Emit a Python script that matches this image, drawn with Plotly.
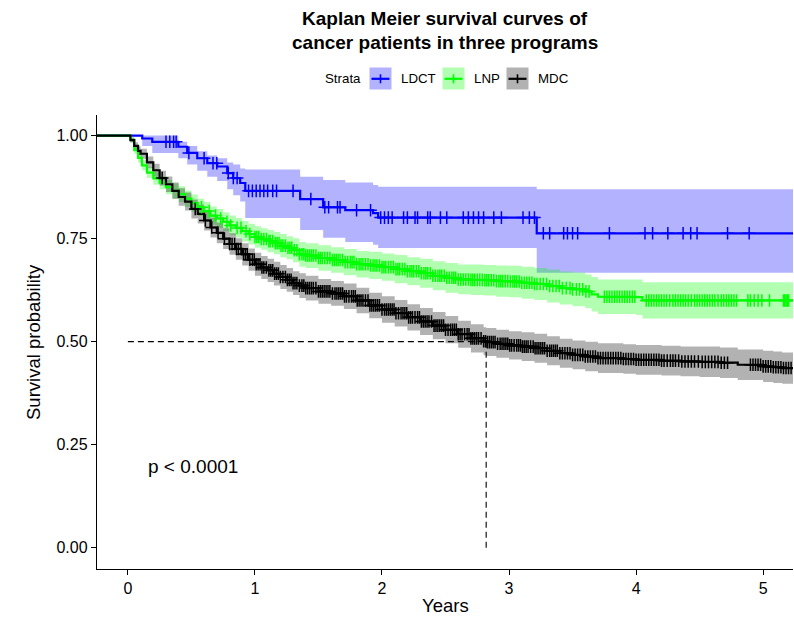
import numpy as np
import plotly.graph_objects as go

# ---------------- data ----------------
# LDCT
ldct_time = [-0.3, 0.113, 0.192, 0.397, 0.467, 0.546, 0.625, 0.703, 0.782, 0.829, 0.884, 0.924,
             1.356, 1.537, 1.711, 1.930, 1.970, 3.218, 5.30]
ldct_surv = [1.000, 0.993, 0.985, 0.973, 0.958, 0.945, 0.933, 0.925, 0.909, 0.897, 0.885, 0.866,
             0.846, 0.826, 0.819, 0.812, 0.801, 0.763, 0.763]
ldct_lower = [1.000, 0.975, 0.958, 0.945, 0.930, 0.915, 0.900, 0.890, 0.870, 0.855, 0.840, 0.800,
              0.771, 0.752, 0.742, 0.735, 0.727, 0.667, 0.667]
ldct_upper = [1.000, 1.000, 1.000, 0.985, 0.975, 0.962, 0.952, 0.945, 0.935, 0.930, 0.920, 0.918,
              0.900, 0.892, 0.886, 0.880, 0.876, 0.870, 0.870]
ldct_censor = [0.30, 0.33, 0.36, 0.38, 0.48, 0.60, 0.67, 0.70, 0.79, 0.83, 0.86, 0.95, 0.98, 1.01,
               1.04, 1.07, 1.10, 1.14, 1.17, 1.30, 1.44, 1.55, 1.58, 1.65, 1.67, 1.80, 1.91, 1.99,
               2.02, 2.05, 2.08, 2.17, 2.20, 2.26, 2.28, 2.36, 2.38, 2.46, 2.51, 2.64, 2.68, 2.72,
               2.76, 2.80, 2.88, 2.94, 3.11, 3.16, 3.20, 3.27, 3.32, 3.43, 3.46, 3.50, 3.54, 3.79,
               4.07, 4.13, 4.25, 4.37, 4.43, 4.48, 4.72, 4.89]

# LNP
lnp_time = [-0.3, 0.02, 0.05, 0.08, 0.11, 0.15, 0.20, 0.25, 0.30, 0.35, 0.40, 0.45, 0.50, 0.55,
            0.60, 0.65, 0.70, 0.75, 0.80, 0.85, 0.90, 0.95, 1.00, 1.05, 1.10, 1.15, 1.20, 1.25,
            1.30, 1.35, 1.40, 1.50, 1.60, 1.70, 1.80, 1.90, 2.00, 2.10, 2.20, 2.30, 2.40, 2.50,
            2.60, 2.70, 2.80, 2.90, 3.00, 3.10, 3.20, 3.30, 3.40, 3.50, 3.60, 3.65, 3.70, 4.00,
            4.05, 5.30]
lnp_surv = [1.000, 0.990, 0.965, 0.946, 0.928, 0.910, 0.896, 0.886, 0.875, 0.866, 0.858, 0.847,
            0.836, 0.826, 0.817, 0.806, 0.799, 0.791, 0.782, 0.776, 0.768, 0.761, 0.754, 0.749,
            0.744, 0.739, 0.733, 0.728, 0.722, 0.712, 0.709, 0.703, 0.698, 0.693, 0.688, 0.685,
            0.681, 0.676, 0.671, 0.666, 0.660, 0.655, 0.651, 0.650, 0.649, 0.647, 0.646, 0.643,
            0.640, 0.635, 0.630, 0.627, 0.622, 0.615, 0.609, 0.608, 0.600, 0.600]
lnp_lower = [1.000, 0.984, 0.956, 0.935, 0.916, 0.897, 0.881, 0.870, 0.858, 0.848, 0.839, 0.827,
             0.815, 0.805, 0.795, 0.784, 0.776, 0.768, 0.758, 0.752, 0.743, 0.736, 0.728, 0.723,
             0.717, 0.712, 0.705, 0.700, 0.693, 0.682, 0.679, 0.672, 0.667, 0.661, 0.656, 0.652,
             0.648, 0.642, 0.637, 0.631, 0.625, 0.619, 0.615, 0.613, 0.612, 0.609, 0.608, 0.604,
             0.601, 0.595, 0.590, 0.586, 0.581, 0.573, 0.567, 0.565, 0.556, 0.556]
lnp_upper = [1.000, 0.996, 0.974, 0.957, 0.940, 0.923, 0.911, 0.902, 0.892, 0.884, 0.877, 0.867,
             0.857, 0.847, 0.839, 0.828, 0.822, 0.814, 0.806, 0.800, 0.793, 0.786, 0.780, 0.775,
             0.771, 0.766, 0.761, 0.756, 0.751, 0.742, 0.739, 0.734, 0.729, 0.725, 0.720, 0.718,
             0.714, 0.710, 0.705, 0.701, 0.695, 0.691, 0.687, 0.687, 0.686, 0.685, 0.684, 0.682,
             0.679, 0.675, 0.670, 0.668, 0.663, 0.657, 0.651, 0.651, 0.644, 0.644]
lnp_censor = [0.58, 0.64, 0.69, 0.73, 0.78, 0.81, 0.86, 0.89, 0.93, 0.96, 1.00, 1.03, 1.07, 1.09,
              1.12, 1.16, 1.19, 1.22, 1.26, 1.29, 1.33, 1.37, 1.40, 1.43, 1.46, 1.50, 1.53, 1.57,
              1.61, 1.64, 1.67, 1.71, 1.75, 1.78, 1.82, 1.85, 1.89, 1.93, 1.96, 2.00, 2.03, 2.07,
              2.11, 2.14, 2.18, 2.22, 2.25, 2.29, 2.33, 2.36, 2.40, 2.44, 2.47, 2.51, 2.55, 2.58,
              2.62, 2.66, 2.70, 2.73, 2.77, 2.81, 2.84, 2.88, 2.92, 2.95, 2.99, 3.03, 3.06, 3.10,
              3.14, 3.18, 3.22, 3.27, 3.32, 3.37, 3.42, 3.48, 3.53, 3.58, 3.63, 3.75, 3.79, 3.83,
              3.87, 3.91, 3.95, 3.99, 4.08, 4.12, 4.16, 4.20, 4.24, 4.29, 4.33, 4.37, 4.41, 4.46,
              4.50, 4.54, 4.58, 4.62, 4.67, 4.71, 4.75, 4.79, 4.88, 4.93, 4.99, 5.05, 5.16, 5.18,
              5.20,
              1.015, 1.05, 1.11, 1.14, 1.175, 1.205, 1.24, 1.275, 1.31, 1.35, 1.385, 1.415, 1.445,
              1.48, 1.515, 1.55, 1.59, 1.625, 1.655, 1.69, 1.73, 1.765, 1.80, 1.835, 1.87, 1.91,
              1.945, 1.98, 2.015, 2.05, 2.09, 2.125, 2.16, 2.20, 2.235, 2.27, 2.31, 2.345, 2.38,
              2.42, 2.455, 2.49, 2.53, 2.565, 2.60, 2.64, 2.68, 2.715, 2.75, 2.79, 2.825, 2.86,
              2.90, 2.935, 2.97, 3.01, 3.045, 3.08, 3.12, 3.16, 3.20, 3.245, 3.295, 3.345, 3.395,
              3.45, 3.50, 3.555, 3.605, 3.77, 3.81, 3.85, 3.89, 3.93, 3.97, 4.10, 4.14, 4.18,
              4.22, 4.265, 4.31, 4.35, 4.39, 4.435, 4.48, 4.52, 4.56, 4.60, 4.645, 4.69, 4.73,
              4.77, 4.90, 4.96, 5.17, 5.19]

# MDC
mdc_time = [-0.3, 0.02, 0.05, 0.08, 0.10, 0.15, 0.20, 0.25, 0.30, 0.35, 0.40, 0.45, 0.50, 0.55,
            0.60, 0.65, 0.70, 0.75, 0.80, 0.85, 0.90, 0.95, 1.00, 1.05, 1.10, 1.15, 1.20, 1.25,
            1.30, 1.35, 1.40, 1.50, 1.60, 1.70, 1.80, 1.90, 2.00, 2.10, 2.20, 2.30, 2.40, 2.50,
            2.60, 2.70, 2.80, 2.82, 2.90, 3.00, 3.10, 3.20, 3.30, 3.40, 3.50, 3.60, 3.70, 3.90,
            4.00, 4.20, 4.35, 4.50, 4.66, 4.80, 5.00, 5.08, 5.15, 5.30]
mdc_surv = [1.000, 0.989, 0.975, 0.963, 0.956, 0.935, 0.916, 0.897, 0.882, 0.866, 0.851, 0.840,
            0.822, 0.810, 0.794, 0.777, 0.764, 0.750, 0.737, 0.725, 0.712, 0.699, 0.688, 0.680,
            0.673, 0.665, 0.657, 0.650, 0.642, 0.636, 0.630, 0.622, 0.617, 0.610, 0.600, 0.588,
            0.578, 0.569, 0.559, 0.549, 0.539, 0.529, 0.518, 0.508, 0.501, 0.499, 0.495, 0.491,
            0.488, 0.484, 0.478, 0.472, 0.468, 0.464, 0.460, 0.458, 0.456, 0.454, 0.452, 0.451,
            0.449, 0.444, 0.440, 0.438, 0.436, 0.436]
mdc_lower = [1.000, 0.983, 0.966, 0.952, 0.944, 0.921, 0.900, 0.879, 0.863, 0.846, 0.830, 0.818,
             0.799, 0.787, 0.770, 0.753, 0.739, 0.725, 0.711, 0.699, 0.685, 0.672, 0.660, 0.652,
             0.645, 0.636, 0.628, 0.621, 0.613, 0.606, 0.600, 0.592, 0.587, 0.579, 0.569, 0.557,
             0.546, 0.537, 0.527, 0.516, 0.506, 0.496, 0.485, 0.474, 0.467, 0.465, 0.461, 0.457,
             0.453, 0.449, 0.443, 0.437, 0.433, 0.428, 0.424, 0.422, 0.420, 0.418, 0.416, 0.414,
             0.412, 0.407, 0.402, 0.400, 0.398, 0.398]
mdc_upper = [1.000, 0.995, 0.984, 0.974, 0.968, 0.949, 0.932, 0.915, 0.901, 0.886, 0.872, 0.862,
             0.845, 0.833, 0.818, 0.801, 0.789, 0.775, 0.763, 0.751, 0.739, 0.726, 0.716, 0.708,
             0.701, 0.694, 0.686, 0.679, 0.671, 0.666, 0.660, 0.652, 0.647, 0.641, 0.631, 0.619,
             0.610, 0.601, 0.591, 0.582, 0.572, 0.562, 0.551, 0.542, 0.535, 0.533, 0.529, 0.525,
             0.523, 0.519, 0.513, 0.507, 0.503, 0.500, 0.496, 0.494, 0.492, 0.490, 0.488, 0.488,
             0.486, 0.481, 0.478, 0.476, 0.474, 0.474]
mdc_censor = [0.27, 0.53, 0.61, 0.66, 0.71, 0.76, 0.80, 0.84, 0.87, 0.91, 0.94, 0.98, 1.01, 1.04,
              1.07, 1.11, 1.14, 1.17, 1.20, 1.24, 1.27, 1.30, 1.33, 1.37, 1.40, 1.43, 1.46, 1.50,
              1.53, 1.56, 1.59, 1.63, 1.66, 1.69, 1.72, 1.76, 1.79, 1.82, 1.85, 1.89, 1.92, 1.95,
              1.98, 2.02, 2.05, 2.08, 2.11, 2.15, 2.18, 2.21, 2.24, 2.28, 2.31, 2.34, 2.37, 2.41,
              2.44, 2.47, 2.50, 2.54, 2.57, 2.60, 2.63, 2.67, 2.70, 2.73, 2.76, 2.80, 2.83, 2.86,
              2.89, 2.93, 2.96, 2.99, 3.02, 3.06, 3.09, 3.12, 3.15, 3.19, 3.22, 3.25, 3.28, 3.32,
              3.35, 3.38, 3.42, 3.46, 3.50, 3.54, 3.58, 3.62, 3.66, 3.70, 3.74, 3.78, 3.82, 3.86,
              3.90, 3.94, 3.98, 4.02, 4.06, 4.10, 4.14, 4.18, 4.22, 4.27, 4.31, 4.36, 4.41, 4.46,
              4.52, 4.57, 4.62, 4.67, 4.72, 4.90, 4.94, 4.98, 5.02, 5.06, 5.10, 5.14, 5.18, 5.22,
              0.82, 0.855, 0.89, 0.925, 0.96, 0.995, 1.025, 1.055, 1.09, 1.125, 1.155, 1.185, 1.22,
              1.255, 1.285, 1.315, 1.35, 1.385, 1.415, 1.445, 1.48, 1.515, 1.545, 1.575, 1.61,
              1.645, 1.675, 1.705, 1.74, 1.775, 1.805, 1.835, 1.87, 1.905, 1.935, 1.965, 2.00,
              2.035, 2.065, 2.095, 2.13, 2.165, 2.195, 2.225, 2.26, 2.295, 2.325, 2.355, 2.39,
              2.425, 2.455, 2.485, 2.52, 2.555, 2.585, 2.615, 2.65, 2.685, 2.715, 2.745, 2.78,
              2.815, 2.845, 2.875, 2.91, 2.945, 2.975, 3.005, 3.04, 3.075, 3.105, 3.135, 3.17,
              3.205, 3.235, 3.265, 3.30, 3.335, 3.365, 3.40, 3.44, 3.48, 3.52, 3.56, 3.60, 3.64,
              3.68, 3.72, 3.76, 3.80, 3.84, 3.88, 3.92, 3.96, 4.00, 4.04, 4.08, 4.12, 4.16, 4.20,
              4.245, 4.29, 4.335, 4.385, 4.435, 4.49, 4.545, 4.595, 4.645, 4.695, 4.92, 4.96, 5.00,
              5.04, 5.08, 5.12, 5.16, 5.20]

strata = ["LDCT", "LNP", "MDC"]
line_colors = {"LDCT": "#0000FF", "LNP": "#00FF00", "MDC": "#000000"}
band_colors = {"LDCT": "rgba(0,0,255,0.3)", "LNP": "rgba(0,255,0,0.3)", "MDC": "rgba(0,0,0,0.3)"}

x_ticks = [0, 1, 2, 3, 4, 5]
y_ticks = [0.0, 0.25, 0.5, 0.75, 1.0]
y_ticktext = ["0.00", "0.25", "0.50", "0.75", "1.00"]
pval_text = "p < 0.0001"

groups = {
    "LDCT": (ldct_time, ldct_surv, ldct_lower, ldct_upper, ldct_censor),
    "LNP": (lnp_time, lnp_surv, lnp_lower, lnp_upper, lnp_censor),
    "MDC": (mdc_time, mdc_surv, mdc_lower, mdc_upper, mdc_censor),
}
for k, v in groups.items():
    assert len(v[0]) == len(v[1]) == len(v[2]) == len(v[3]), k

# ---------------- layout geometry ----------------
W, H = 794, 621
ML, MR, MT, MB = 97, 1, 115, 52
PW, PH = W - ML - MR, H - MT - MB
FONT = "Liberation Sans, Arial, sans-serif"


def pxx(x):
    return (x - ML) / PW


def pxy(y):
    return (H - MB - y) / PH


fig = go.Figure()

# confidence bands
for g in strata:
    t, s, lo, hi, c = groups[g]
    fig.add_trace(go.Scatter(x=t, y=lo, mode="lines", line=dict(width=0, shape="hv"),
                             hoverinfo="skip", showlegend=False))
    fig.add_trace(go.Scatter(x=t, y=hi, mode="lines", line=dict(width=0, shape="hv"),
                             fill="tonexty", fillcolor=band_colors[g], hoverinfo="skip",
                             showlegend=False))

# survival step lines + censor marks
for g in strata:
    t, s, lo, hi, c = groups[g]
    fig.add_trace(go.Scatter(x=t, y=s, mode="lines",
                             line=dict(color=line_colors[g], width=2.2, shape="hv"),
                             name=g, showlegend=False))
for g in strata:
    t, s, lo, hi, c = groups[g]
    ta, sa = np.array(t), np.array(s)
    cs = np.sort(np.array(c))
    idx = np.searchsorted(ta, cs, side="right") - 1
    fig.add_trace(go.Scatter(x=cs, y=sa[idx], mode="markers",
                             marker=dict(symbol="cross-thin", size=9,
                                         line=dict(color=line_colors[g], width=1.5)),
                             showlegend=False, hoverinfo="skip"))

# median survival line (MDC)
mt, ms = np.array(mdc_time), np.array(mdc_surv)
med = float(mt[np.argmax(ms <= 0.5)])
fig.add_trace(go.Scatter(x=[0, med], y=[0.5, 0.5], mode="lines",
                         line=dict(color="black", width=1.1, dash="6px,4px"),
                         showlegend=False, hoverinfo="skip"))
fig.add_trace(go.Scatter(x=[med, med], y=[0.5, 0], mode="lines",
                         line=dict(color="black", width=1.1, dash="6px,4px"),
                         showlegend=False, hoverinfo="skip"))

annotations = []
# title
annotations.append(dict(text="<b>Kaplan Meier survival curves of</b>", x=0.5, y=pxy(19),
                        xref="paper", yref="paper", showarrow=False, xanchor="center",
                        yanchor="middle", font=dict(size=19, color="black", family=FONT)))
annotations.append(dict(text="<b>cancer patients in three programs</b>", x=0.5, y=pxy(42.5),
                        xref="paper", yref="paper", showarrow=False, xanchor="center",
                        yanchor="middle", font=dict(size=19, color="black", family=FONT)))
# axis titles
annotations.append(dict(text="Years", x=0.5, y=pxy(605), xref="paper", yref="paper",
                        showarrow=False, xanchor="center", yanchor="middle",
                        font=dict(size=18.5, color="black", family=FONT)))
annotations.append(dict(text="Survival probability", x=pxx(33), y=pxy(342), xref="paper",
                        yref="paper", showarrow=False, textangle=-90, xanchor="center",
                        yanchor="middle", font=dict(size=18.5, color="black", family=FONT)))
# p-value
annotations.append(dict(text=pval_text, x=0.14, y=0.196, xref="x", yref="y", showarrow=False,
                        xanchor="left", yanchor="middle",
                        font=dict(size=19, color="black", family=FONT)))

# manual legend
shapes = []
annotations.append(dict(text="Strata", x=pxx(342.5), y=pxy(78.5), xref="paper", yref="paper",
                        showarrow=False, xanchor="center", yanchor="middle",
                        font=dict(size=13.3, color="black", family=FONT)))
key_left = {"LDCT": 369.5, "LNP": 442.5, "MDC": 506.5}
label_left = {"LDCT": 399, "LNP": 472, "MDC": 536}
for g in strata:
    x0 = key_left[g]
    shapes.append(dict(type="rect", xref="paper", yref="paper", x0=pxx(x0), x1=pxx(x0 + 22),
                       y0=pxy(67.5), y1=pxy(89.5), fillcolor=band_colors[g], line=dict(width=0),
                       layer="above"))
    shapes.append(dict(type="line", xref="paper", yref="paper", x0=pxx(x0 + 2), x1=pxx(x0 + 20),
                       y0=pxy(78.8), y1=pxy(78.8), line=dict(color=line_colors[g], width=2.2),
                       layer="above"))
    shapes.append(dict(type="line", xref="paper", yref="paper", x0=pxx(x0 + 11), x1=pxx(x0 + 11),
                       y0=pxy(74.3), y1=pxy(83.3), line=dict(color=line_colors[g], width=1.6),
                       layer="above"))
    annotations.append(dict(text=g, x=pxx(label_left[g]), y=pxy(78.5), xref="paper",
                            yref="paper", showarrow=False, xanchor="left", yanchor="middle",
                            font=dict(size=13.3, color="black", family=FONT)))

axis_common = dict(showgrid=False, zeroline=False, showline=True, linecolor="black",
                   linewidth=1.4, ticks="outside", ticklen=5, tickwidth=1.3, tickcolor="black",
                   tickfont=dict(size=16, color="black", family=FONT))

fig.update_layout(
    width=W, height=H,
    margin=dict(l=ML, r=MR, t=MT, b=MB, pad=0),
    paper_bgcolor="white", plot_bgcolor="white",
    showlegend=False,
    font=dict(family=FONT, color="black"),
    xaxis=dict(range=[-0.243, 5.235], tickvals=x_ticks, **axis_common),
    yaxis=dict(range=[-0.0516, 1.05], tickvals=y_ticks, ticktext=y_ticktext, **axis_common),
    annotations=annotations,
    shapes=shapes,
)

fig.write_html("out.html")
